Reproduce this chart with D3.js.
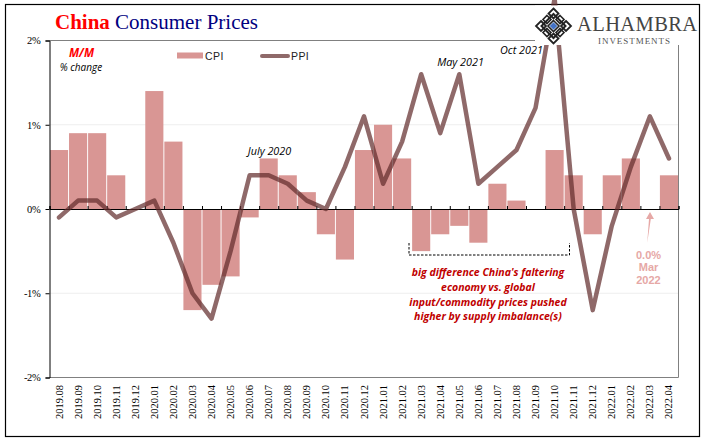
<!DOCTYPE html>
<html><head><meta charset="utf-8">
<script src="https://cdn.jsdelivr.net/npm/d3@7"></script>
<style>html,body{margin:0;padding:0;background:#fff}svg{display:block}</style>
</head><body><div id="c"></div>
<script>
const categories=["2019.08","2019.09","2019.10","2019.11","2019.12","2020.01","2020.02","2020.03","2020.04","2020.05","2020.06","2020.07","2020.08","2020.09","2020.10","2020.11","2020.12","2021.01","2021.02","2021.03","2021.04","2021.05","2021.06","2021.07","2021.08","2021.09","2021.10","2021.11","2021.12","2022.01","2022.02","2022.03","2022.04"];
const cpi=[0.7,0.9,0.9,0.4,0,1.4,0.8,-1.2,-0.9,-0.8,-0.1,0.6,0.4,0.2,-0.3,-0.6,0.7,1.0,0.6,-0.5,-0.3,-0.2,-0.4,0.3,0.1,0,0.7,0.4,-0.3,0.4,0.6,0,0.4];
const ppi=[-0.1,0.1,0.1,-0.1,0,0.1,-0.4,-1.0,-1.3,-0.5,0.4,0.4,0.3,0.1,0,0.5,1.1,0.3,0.8,1.6,0.9,1.6,0.3,0.5,0.7,1.2,2.5,0,-1.2,-0.2,0.5,1.1,0.6];
const yTicks=[-2,-1,0,1,2];
const noteLines=["big difference China's faltering","economy vs. global","input/commodity prices pushed","higher by supply imbalance(s)"];
const W=705,H=441,L=49.5,R=678.5,T=40.5,B=377.5;
const svg=d3.select("#c").append("svg").attr("width",W).attr("height",H);
svg.append("rect").attr("x",5.5).attr("y",4.5).attr("width",694).attr("height",432).attr("fill","#fff").attr("stroke","#000").attr("stroke-width",1.2);
const x=d3.scaleBand().domain(categories).range([L,R]).paddingInner(0.05).paddingOuter(0.025);
const xc=d=>x(d)+x.bandwidth()/2;
const y=d3.scaleLinear().domain([-2,2]).range([B,T]);
svg.append("g").selectAll("line").data([-1,1]).join("line").attr("x1",L).attr("x2",R).attr("y1",d=>y(d)).attr("y2",d=>y(d)).attr("stroke","#eeeeee");
svg.append("path").attr("d",`M${L},${T}H${R}V${B}H${L}`).attr("fill","none").attr("stroke","#808080");
const bars=categories.map((c,i)=>({c,v:cpi[i]}));
svg.append("g").selectAll("rect").data(bars).join("rect")
 .attr("x",d=>x(d.c)).attr("width",x.bandwidth())
 .attr("y",d=>y(Math.max(0,d.v))).attr("height",d=>Math.abs(y(d.v)-y(0))).attr("fill","#d99694");
const ya=d3.axisLeft(y).tickValues(yTicks).tickSize(4).tickFormat(d=>d+"%");
const yg=svg.append("g").attr("transform",`translate(${L},0)`).call(ya);
yg.select(".domain").attr("stroke","#000").attr("stroke-width",1);
yg.selectAll("line").attr("stroke","#000");
yg.selectAll("text").attr("x",-9).attr("font-family","'Liberation Serif',serif").attr("font-size",10.5).attr("letter-spacing",-0.3).attr("fill","#000");
const xa=d3.axisBottom(d3.scaleLinear().domain([0,categories.length]).range([L,R])).tickValues(d3.range(categories.length+1)).tickSize(-3).tickFormat("");
const xg=svg.append("g").attr("transform",`translate(0,${y(0)})`).call(xa);
xg.select(".domain").attr("stroke","#000");
xg.selectAll("line").attr("stroke","#000");
svg.append("g").selectAll("text").data(categories).join("text")
 .attr("transform",d=>`translate(${xc(d)+3.5},419) rotate(-90)`)
 .attr("font-family","'Liberation Serif',serif").attr("font-size",10.5).attr("fill","#000").text(d=>d);
const line=d3.line().x(d=>xc(d.c)).y(d=>y(d.v));
svg.append("path").datum(categories.map((c,i)=>({c,v:ppi[i]}))).attr("d",line)
 .attr("fill","none").attr("stroke","#5f2a2a").attr("stroke-opacity",0.7).attr("stroke-width",4.5).attr("stroke-linecap","round").attr("stroke-linejoin","round");
// logo
svg.append("rect").attr("x",535).attr("y",5.5).attr("width",163).attr("height",39.5).attr("fill","#fff");
const lg=svg.append("g").attr("transform","translate(553.5,26)").attr("fill","none").attr("stroke","#222");
lg.append("path").attr("d","M0,-12L12,0L0,12L-12,0Z").attr("stroke-width",2);
lg.append("path").attr("d","M0,-5.5L5.5,0L0,5.5L-5.5,0Z").attr("stroke-width",1.6);
[[0,-12.5],[12.5,0],[0,12.5],[-12.5,0]].forEach(([a,b])=>lg.append("path").attr("transform",`translate(${a},${b})`).attr("d","M0,-5L5,0L0,5L-5,0Z").attr("stroke-width",1.8));
[[-6.5,-6.5],[6.5,-6.5],[6.5,6.5],[-6.5,6.5]].forEach(([a,b])=>lg.append("path").attr("transform",`translate(${a},${b})`).attr("d","M0,-4L4,0L0,4L-4,0Z").attr("stroke-width",1.6));
lg.append("path").attr("d","M0,-3.8L3.8,0L0,3.8L-3.8,0Z").attr("fill","#4472c4").attr("stroke","none");
svg.append("text").attr("x",577).attr("y",31).attr("font-family","'Liberation Serif',serif").attr("font-size",20.5).attr("letter-spacing",0.4).attr("fill","#444").text("ALHAMBRA");
svg.append("text").attr("x",598).attr("y",43.5).attr("font-family","'Liberation Serif',serif").attr("font-size",9).attr("letter-spacing",0.95).attr("fill","#555").text("INVESTMENTS");
// title
const t=svg.append("text").attr("x",55).attr("y",29).attr("font-family","'Liberation Serif',serif").attr("font-size",21);
t.append("tspan").attr("fill","#ff0000").attr("font-weight","bold").text("China ");
t.append("tspan").attr("fill","#000080").text("Consumer Prices");
// legend
svg.append("rect").attr("x",177).attr("y",52.5).attr("width",26).attr("height",6).attr("fill","#d99694");
svg.append("text").attr("x",205).attr("y",59.5).attr("font-family","'Liberation Sans',sans-serif").attr("font-size",10.5).attr("letter-spacing",0.4).attr("fill","#222").text("CPI");
svg.append("line").attr("x1",262).attr("x2",288).attr("y1",56).attr("y2",56).attr("stroke","#5f2a2a").attr("stroke-opacity",0.7).attr("stroke-width",4).attr("stroke-linecap","round");
svg.append("text").attr("x",291).attr("y",59.5).attr("font-family","'Liberation Sans',sans-serif").attr("font-size",10.5).attr("letter-spacing",0.4).attr("fill","#222").text("PPI");
const it=(s,px,py,fs,fill,anchor,w)=>svg.append("text").attr("x",px).attr("y",py).attr("font-family","'Open Sans',sans-serif").attr("font-style","italic").attr("font-size",fs).attr("fill",fill).attr("text-anchor",anchor||"middle").attr("font-weight",w||"normal").text(s);
it("M/M",81.5,57,11.5,"#ff0000","middle","bold");
it("% change",81,71,10,"#000");
it("July 2020",269.5,155,10.8,"#000");
it("May 2021",460.5,66,10.8,"#000");
it("Oct 2021",521.5,54,10.8,"#000");
svg.append("path").attr("d","M409,243V255H569.5V243").attr("fill","none").attr("stroke","#000").attr("stroke-dasharray","2.5,1.5");
noteLines.forEach((s,i)=>it(s,488,[276,291,306,320][i],10.5,"#c00000","middle","bold"));
svg.append("path").attr("d","M650,212L654,219H650.8L647.2,243L649,219H646Z").attr("fill","#e6a8a6");
[["0.0%",259],["Mar",271],["2022",284]].forEach(([s,py])=>svg.append("text").attr("x",648.5).attr("y",py).attr("text-anchor","middle").attr("font-family","'Liberation Sans',sans-serif").attr("font-weight","bold").attr("font-size",11).attr("fill","#e6a8a6").text(s));
</script></body></html>
